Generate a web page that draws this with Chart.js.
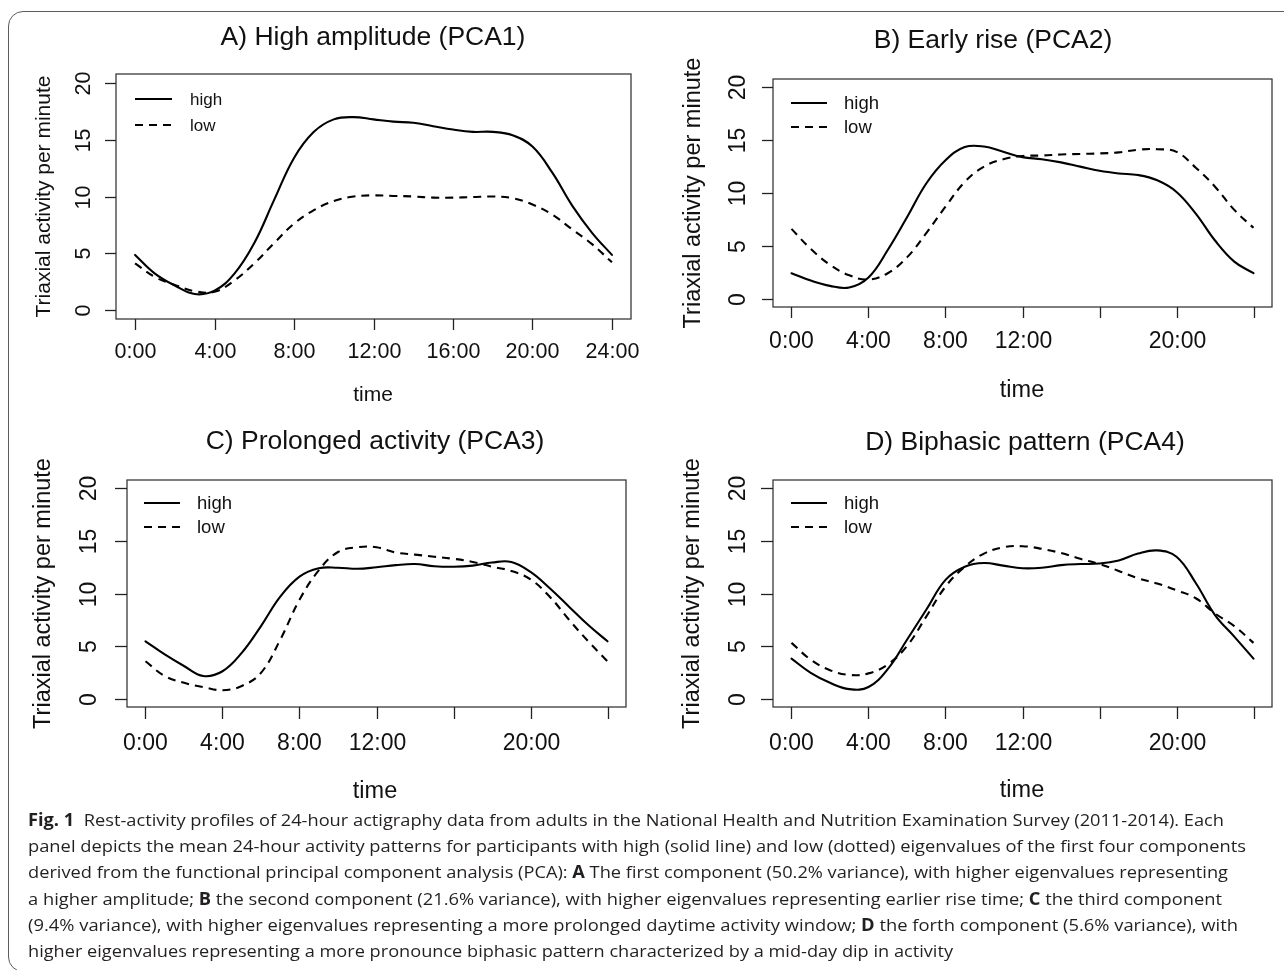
<!DOCTYPE html>
<html>
<head>
<meta charset="utf-8">
<script src="https://cdn.jsdelivr.net/npm/chart.js@4.4.1/dist/chart.umd.min.js"></script>
<style>
  html,body{margin:0;padding:0;background:#fff;}
  body{width:1284px;height:970px;overflow:hidden;position:relative;}
  .frame{position:absolute;left:8px;top:11px;width:1320px;height:961px;border:1.4px solid #5c5c5c;border-radius:15px;box-sizing:border-box;}
  canvas.panel{position:absolute;left:0;top:0;pointer-events:none;}
  .caption{position:absolute;left:28px;top:807px;font-family:"Open Sans","Noto Sans",sans-serif;font-size:17px;line-height:26.2px;color:#231f20;}
  .caption div{white-space:nowrap;transform-origin:0 0;width:max-content;}
  .caption b{font-weight:700;}
</style>
</head>
<body>
<div class="frame"></div>
<canvas id="cA" class="panel" width="1284" height="970"></canvas>
<canvas id="cB" class="panel" width="1284" height="970"></canvas>
<canvas id="cC" class="panel" width="1284" height="970"></canvas>
<canvas id="cD" class="panel" width="1284" height="970"></canvas>
<div class="caption" id="caption">
  <div data-end="1224"><b>Fig. 1</b>&nbsp; Rest-activity profiles of 24-hour actigraphy data from adults in the National Health and Nutrition Examination Survey (2011-2014). Each</div>
  <div data-end="1246">panel depicts the mean 24-hour activity patterns for participants with high (solid line) and low (dotted) eigenvalues of the first four components</div>
  <div data-end="1228">derived from the functional principal component analysis (PCA): <b>A</b> The first component (50.2% variance), with higher eigenvalues representing</div>
  <div data-end="1222">a higher amplitude; <b>B</b> the second component (21.6% variance), with higher eigenvalues representing earlier rise time; <b>C</b> the third component</div>
  <div data-end="1238">(9.4% variance), with higher eigenvalues representing a more prolonged daytime activity window; <b>D</b> the forth component (5.6% variance), with</div>
  <div data-end="953">higher eigenvalues representing a more pronounce biphasic pattern characterized by a mid-day dip in activity</div>
</div>
<script>
// ---------------- DATA ----------------
const hours = [0,1,2,3,4,5,6,7,8,9,10,11,12,13,14,15,16,17,18,19,20,21,22,23,24];
const xTickValues = [0,4,8,12,16,20,24];
const xTickLabelsA = ['0:00','4:00','8:00','12:00','16:00','20:00','24:00'];
const xTickLabelsBCD = ['0:00','4:00','8:00','12:00','','20:00',''];
const yTickValues = [0,5,10,15,20];
const yTickLabels = ['0','5','10','15','20'];
const seriesNames = ['high','low'];
const panelTitles = ['A) High amplitude (PCA1)','B) Early rise (PCA2)','C) Prolonged activity (PCA3)','D) Biphasic pattern (PCA4)'];
const xAxisTitle = 'time';
const yAxisTitle = 'Triaxial activity per minute';

const pca1High = [4.85,3.2,2.15,1.4,1.7,3.2,5.9,9.7,13.4,15.7,16.8,17.0,16.8,16.6,16.5,16.2,15.9,15.7,15.7,15.4,14.4,12.1,9.2,6.8,4.85];
const pca1Low  = [4.1,2.9,2.2,1.65,1.6,2.6,4.1,5.9,7.6,8.8,9.6,10.0,10.1,10.05,10.0,9.9,9.9,9.95,10.0,9.85,9.3,8.4,7.1,5.8,4.2];
const pca2High = [2.4,1.7,1.2,1.05,2.0,4.6,7.7,10.9,13.1,14.35,14.4,13.9,13.4,13.2,12.9,12.5,12.1,11.85,11.7,11.2,10.1,8.05,5.5,3.5,2.4];
const pca2Low  = [6.6,4.7,3.2,2.2,1.8,2.4,3.9,6.2,8.7,11.05,12.5,13.2,13.5,13.55,13.65,13.7,13.75,13.85,14.1,14.15,13.9,12.4,10.6,8.4,6.7];
const pca3High = [5.45,4.2,3.1,2.15,2.6,4.35,6.9,9.7,11.6,12.4,12.45,12.35,12.5,12.7,12.8,12.6,12.55,12.65,12.95,13.0,12.05,10.5,8.75,7.0,5.45];
const pca3Low  = [3.55,2.15,1.5,1.1,0.8,1.2,2.45,5.6,9.4,12.2,13.95,14.4,14.4,13.9,13.7,13.5,13.3,13.0,12.55,12.15,11.35,9.7,7.5,5.45,3.55];
const pca4High = [3.8,2.45,1.5,0.9,1.1,2.8,5.6,8.45,11.3,12.55,12.9,12.65,12.4,12.45,12.7,12.8,12.85,13.15,13.8,14.1,13.5,11.0,7.95,5.9,3.8];
const pca4Low  = [5.3,3.7,2.7,2.25,2.4,3.25,5.0,7.8,10.65,12.55,13.8,14.4,14.5,14.25,13.85,13.3,12.8,12.15,11.45,10.95,10.3,9.55,8.1,6.9,5.3];

// ---------------- LAYOUT (page pixels) ----------------
const PAGE_W = 1284, PAGE_H = 970;
const FONT = '"Liberation Sans", Arial, Helvetica, sans-serif';
const layouts = [
  {id:'cA', high:pca1High, low:pca1Low, xLabels:xTickLabelsA,
   box:{l:116,t:74,r:631,b:319}, title:{x:373,y:45,size:26.5},
   tickSize:21.5, xTickBase:358, yTickBase:90, yLabBase:50, labSize:21, timeX:373, timeBase:401, tickLen:11,
   legend:{x1:135,x2:172,yH:99,yL:125,tx:190,size:17}},
  {id:'cB', high:pca2High, low:pca2Low, xLabels:xTickLabelsBCD,
   box:{l:773,t:79,r:1272,b:307}, title:{x:993,y:48,size:26.5},
   tickSize:23, xTickBase:348, yTickBase:745, yLabBase:700, labSize:23.5, timeX:1022, timeBase:397, tickLen:11,
   legend:{x1:791,x2:827,yH:103,yL:127,tx:844,size:18.5}},
  {id:'cC', high:pca3High, low:pca3Low, xLabels:xTickLabelsBCD,
   box:{l:127,t:480,r:626,b:707}, title:{x:375,y:449,size:26.5},
   tickSize:23, xTickBase:750, yTickBase:96, yLabBase:50, labSize:23.5, timeX:375, timeBase:798, tickLen:12,
   legend:{x1:144,x2:180,yH:503,yL:527,tx:197,size:18.5}},
  {id:'cD', high:pca4High, low:pca4Low, xLabels:xTickLabelsBCD,
   box:{l:773,t:480,r:1272,b:707}, title:{x:1025,y:450,size:26.5},
   tickSize:23, xTickBase:750, yTickBase:745, yLabBase:699, labSize:23.5, timeX:1022, timeBase:797, tickLen:12,
   legend:{x1:791,x2:827,yH:503,yL:527,tx:844,size:18.5}}
];
const LINE_W = 2.1;
const DASH = [8,6];
const INK = '#111';

const rStylePlugin = {
  id: 'rStyle',
  afterDraw(chart) {
    const p = chart.$layout, ctx = chart.ctx, a = chart.chartArea;
    const xs = chart.scales.x, ys = chart.scales.y;
    ctx.save();
    // plot box
    ctx.strokeStyle = '#3a3a3a'; ctx.lineWidth = 1.3;
    ctx.strokeRect(a.left, a.top, a.right - a.left, a.bottom - a.top);
    // x axis ticks + labels
    ctx.strokeStyle = '#222'; ctx.fillStyle = INK;
    ctx.font = p.tickSize + 'px ' + FONT;
    ctx.textAlign = 'center'; ctx.textBaseline = 'alphabetic';
    xTickValues.forEach((v, i) => {
      const px = Math.round(xs.getPixelForValue(v)) + 0.5;
      ctx.beginPath(); ctx.moveTo(px, a.bottom); ctx.lineTo(px, a.bottom + p.tickLen); ctx.stroke();
      const lab = p.xLabels[i];
      if (lab) ctx.fillText(lab, px, p.xTickBase);
    });
    // y axis ticks + rotated labels
    yTickValues.forEach((v, i) => {
      const py = Math.round(ys.getPixelForValue(v)) + 0.5;
      ctx.beginPath(); ctx.moveTo(a.left, py); ctx.lineTo(a.left - p.tickLen, py); ctx.stroke();
      ctx.save(); ctx.translate(p.yTickBase, py); ctx.rotate(-Math.PI / 2);
      ctx.fillText(yTickLabels[i], 0, 0); ctx.restore();
    });
    // axis titles
    ctx.font = p.labSize + 'px ' + FONT;
    ctx.fillText(xAxisTitle, p.timeX, p.timeBase);
    ctx.save(); ctx.translate(p.yLabBase, (a.top + a.bottom) / 2); ctx.rotate(-Math.PI / 2);
    ctx.fillText(yAxisTitle, 0, 0); ctx.restore();
    // panel title
    ctx.font = p.title.size + 'px ' + FONT;
    ctx.fillText(p.titleText, p.title.x, p.title.y);
    // legend
    const L = p.legend;
    ctx.strokeStyle = '#000'; ctx.lineWidth = LINE_W;
    ctx.beginPath(); ctx.moveTo(L.x1, L.yH); ctx.lineTo(L.x2, L.yH); ctx.stroke();
    ctx.setLineDash(DASH);
    ctx.beginPath(); ctx.moveTo(L.x1, L.yL); ctx.lineTo(L.x2, L.yL); ctx.stroke();
    ctx.setLineDash([]);
    ctx.font = L.size + 'px ' + FONT;
    ctx.textAlign = 'left'; ctx.textBaseline = 'middle';
    ctx.fillText(seriesNames[0], L.tx, L.yH + 1);
    ctx.fillText(seriesNames[1], L.tx, L.yL + 1);
    ctx.restore();
  }
};

layouts.forEach((p, k) => {
  p.titleText = panelTitles[k];
  const toPts = arr => hours.map((h, i) => ({x: h, y: arr[i]}));
  new Chart(document.getElementById(p.id), {
    type: 'line',
    data: {
      datasets: [
        {label: seriesNames[0], data: toPts(p.high), borderColor: '#000', borderWidth: LINE_W,
         pointRadius: 0, fill: false, tension: 0.4, borderCapStyle: 'round', borderJoinStyle: 'round'},
        {label: seriesNames[1], data: toPts(p.low), borderColor: '#000', borderWidth: LINE_W,
         borderDash: DASH, pointRadius: 0, fill: false, tension: 0.4, borderJoinStyle: 'round'}
      ]
    },
    options: {
      responsive: false, animation: false, events: [],
      layout: {padding: {left: p.box.l, top: p.box.t, right: PAGE_W - p.box.r, bottom: PAGE_H - p.box.b}},
      plugins: {legend: {display: false}, tooltip: {enabled: false}, title: {display: false}},
      scales: {
        x: {type: 'linear', min: -0.96, max: 24.96, display: false},
        y: {type: 'linear', min: -0.8, max: 20.8, display: false}
      }
    },
    plugins: [{id: 'layoutRef', beforeInit(c) { c.$layout = p; }}, rStylePlugin]
  });
});

// fit caption lines to their measured widths
function fitCaption() {
  document.querySelectorAll('#caption div').forEach(el => {
    el.style.transform = 'none';
    const w = el.getBoundingClientRect().width;
    const target = parseFloat(el.dataset.end) - 28;
    el.style.transform = 'scaleX(' + (target / w) + ')';
  });
}
fitCaption();
if (document.fonts && document.fonts.ready) document.fonts.ready.then(fitCaption);
</script>
</body>
</html>
